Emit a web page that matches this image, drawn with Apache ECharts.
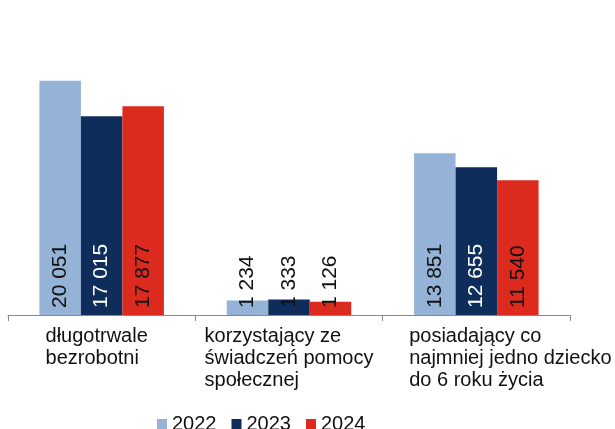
<!DOCTYPE html>
<html style="height: 100%">
  <head>
    <meta charset="utf-8" />
  </head>
  <body style="height: 100%; margin: 0; background: #fff">
    <div id="container" style="width: 615px; height: 429px"></div>
    <script
      type="text/javascript"
      src="https://cdn.jsdelivr.net/npm/echarts@6.0.0/dist/echarts.min.js"
    ></script>

    <script type="text/javascript">
      var dom = document.getElementById("container");
      var myChart = echarts.init(dom);

      // dane
      let categories = [
        ["długotrwale", "bezrobotni"],
        ["korzystający ze", "świadczeń pomocy", "społecznej"],
        ["posiadający co", "najmniej jedno dziecko", "do 6 roku życia"],
      ];
      let years = ["2022", "2023", "2024"];
      let values2022 = [20051, 1234, 13851];
      let values2023 = [17015, 1333, 12655];
      let values2024 = [17877, 1126, 11540];

      let seriesValues = [values2022, values2023, values2024];
      let colors = ["#95b3d7", "#0e2d5a", "#dd2a1e"];
      let labelColors = ["#111", "#fff", "#111"];

      const font = "Liberation Sans, Arial, sans-serif";

      function fmt(v) {
        return String(v).replace(/\B(?=(\d{3})+(?!\d))/g, " ");
      }

      let series = years.map(function (year, s) {
        return {
          name: year,
          type: "bar",
          barWidth: 41.5,
          barGap: "0%",
          itemStyle: { color: colors[s] },
          label: {
            show: true,
            position: "insideBottom",
            rotate: 90,
            align: "left",
            verticalAlign: "middle",
            distance: 7,
            fontFamily: font,
            fontSize: 21,
            formatter: function (p) {
              return fmt(p.value);
            },
          },
          data: seriesValues[s].map(function (v) {
            // krótkie słupki: etykieta wychodzi nad słupek, więc ciemna
            return {
              value: v,
              label: { color: v < 3000 ? "#111" : labelColors[s] },
            };
          }),
        };
      });

      let labelStyle = { align: "left", fontSize: 20, lineHeight: 22, color: "#111", fontFamily: font };

      let option = {
        animation: false,
        textStyle: { fontFamily: font },
        grid: { left: 8, right: 45, top: 23, bottom: 114 },
        legend: {
          data: years,
          left: 152,
          top: 409,
          itemWidth: 10,
          itemHeight: 10,
          itemGap: 15,
          icon: "rect",
          textStyle: { fontSize: 20, color: "#111", fontFamily: font },
        },
        xAxis: {
          type: "category",
          data: categories.map(function (c) {
            return c.join("\n");
          }),
          axisLine: { lineStyle: { color: "#888", width: 1 } },
          axisTick: { show: true, length: 6, lineStyle: { color: "#888" } },
          axisLabel: {
            interval: 0,
            margin: 10,
            color: "#111",
            fontSize: 20,
            lineHeight: 22,
            fontFamily: font,
            formatter: function (value, idx) {
              let style = ["a", "b", "c"][idx];
              return value
                .split("\n")
                .map(function (l) {
                  return "{" + style + "|" + l + "}";
                })
                .join("\n");
            },
            rich: {
              a: Object.assign({}, labelStyle, { padding: [0, 10, 0, 0] }),
              b: labelStyle,
              c: Object.assign({}, labelStyle, { padding: [0, 0, 0, 68] }),
            },
          },
        },
        yAxis: {
          type: "value",
          min: 0,
          max: 25000,
          show: false,
          splitLine: { show: false },
        },
        series: series,
      };

      myChart.setOption(option);
    </script>
  </body>
</html>
